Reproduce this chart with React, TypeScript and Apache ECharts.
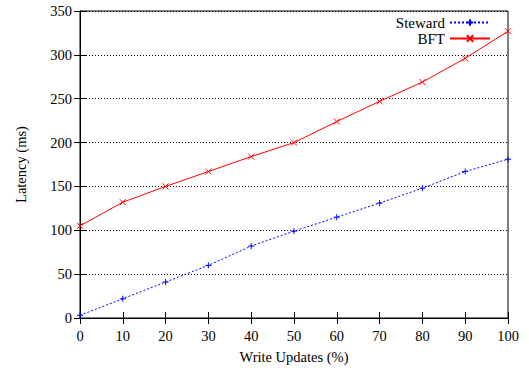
import React, { useEffect, useRef } from "react";
import * as echarts from "echarts";

const xValues = [0, 10, 20, 30, 40, 50, 60, 70, 80, 90, 100];
const stewardValues = [3, 22, 41, 60, 82, 99, 115, 131, 148, 167, 181];
const bftValues = [105, 132, 150, 167, 184, 200, 224, 247, 269, 296, 327];

const FONT = "'Liberation Serif', 'DejaVu Serif', serif";
const plusPath = "path://M0,5 L10,5 M5,0 L5,10";
const crossPath = "path://M0,0 L10,10 M10,0 L0,10";

export default function App() {
  const ref = useRef<HTMLDivElement>(null);
  useEffect(() => {
    document.body.style.margin = "0";
    if (!ref.current) return;
    const chart = echarts.init(ref.current, null, { renderer: "svg" });
    const hiddenAxisCommon = {
      axisLine: { show: false },
      axisLabel: { show: false },
      splitLine: { show: false },
      axisTick: { show: true, inside: true, length: 6, lineStyle: { color: "#000" } },
    };
    chart.setOption({
      animation: false,
      backgroundColor: "#fff",
      grid: {
        left: 80,
        right: 21,
        top: 11,
        bottom: 50,
        containLabel: false,
        outerBoundsMode: "none",
        show: true,
        borderColor: "#000",
        borderWidth: 1,
      },
      legend: {
        orient: "vertical",
        right: 38,
        top: 15,
        padding: 0,
        align: "right",
        itemWidth: 40,
        itemHeight: 8,
        itemGap: 1,
        textStyle: { fontFamily: FONT, fontSize: 15, color: "#000" },
        data: ["Steward", "BFT"],
      },
      xAxis: [
        {
          type: "value",
          min: 0,
          max: 100,
          interval: 10,
          name: "Write Updates (%)",
          nameLocation: "middle",
          nameGap: 31,
          nameMoveOverlap: false,
          nameTextStyle: { fontFamily: FONT, fontSize: 14.5, color: "#000" },
          axisLine: { show: true, lineStyle: { color: "#000", width: 1 } },
          axisTick: { show: true, inside: true, length: 6, lineStyle: { color: "#000" } },
          axisLabel: { fontFamily: FONT, fontSize: 14.5, color: "#000", margin: 10 },
          splitLine: { show: false },
        },
        {
          type: "value",
          position: "top",
          min: 0,
          max: 100,
          interval: 10,
          ...hiddenAxisCommon,
        },
      ],
      yAxis: [
        {
          type: "value",
          min: 0,
          max: 350,
          interval: 50,
          name: "Latency (ms)",
          nameLocation: "middle",
          nameGap: 52,
          nameMoveOverlap: false,
          nameRotate: 90,
          nameTextStyle: { fontFamily: FONT, fontSize: 14.5, color: "#000" },
          axisLine: { show: true, lineStyle: { color: "#000", width: 1 } },
          axisTick: { show: true, inside: true, length: 6, lineStyle: { color: "#000" } },
          axisLabel: { fontFamily: FONT, fontSize: 14.5, color: "#000", margin: 8 },
          splitLine: {
            show: true,
            lineStyle: { color: "#000", width: 1, type: [1, 2] },
          },
        },
        {
          type: "value",
          position: "right",
          min: 0,
          max: 350,
          interval: 50,
          ...hiddenAxisCommon,
        },
      ],
      series: [
        {
          name: "Steward",
          type: "line",
          data: xValues.map((x, i) => [x, stewardValues[i]]),
          symbol: plusPath,
          symbolSize: 6,
          lineStyle: { color: "#0000ff", width: 1, type: [2, 2] },
          itemStyle: { color: "#0000ff", borderColor: "#0000ff", borderWidth: 1 },
          z: 3,
        },
        {
          name: "BFT",
          type: "line",
          data: xValues.map((x, i) => [x, bftValues[i]]),
          symbol: crossPath,
          symbolSize: 6,
          lineStyle: { color: "#ff0000", width: 1, type: "solid" },
          itemStyle: { color: "#ff0000", borderColor: "#ff0000", borderWidth: 1 },
          z: 3,
        },
      ],
    });
    return () => chart.dispose();
  }, []);
  return <div ref={ref} style={{ width: 529, height: 368 }} />;
}
